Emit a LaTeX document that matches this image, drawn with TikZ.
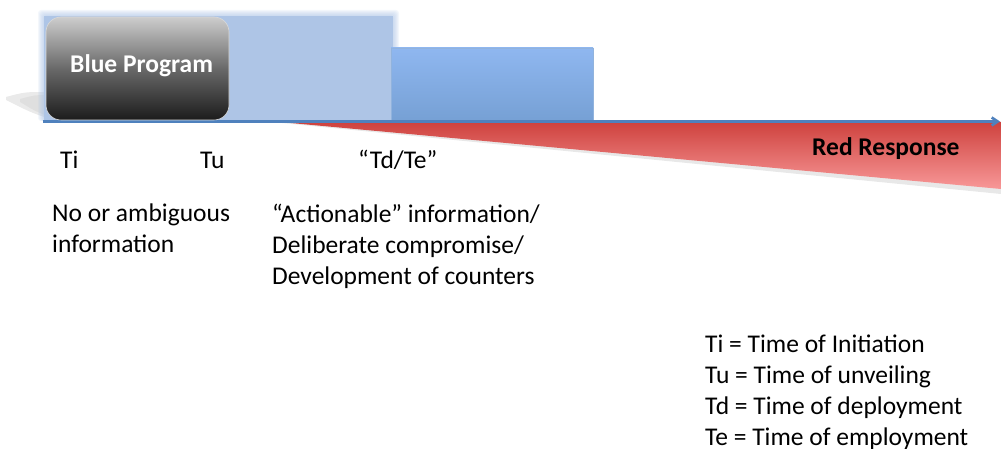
\documentclass[tikz,border=0pt]{standalone}
\usepackage{fontspec}
\setmainfont{Carlito}
\usetikzlibrary{arrows.meta}
\definecolor{axisblue}{RGB}{79,129,189}
\definecolor{paleblue}{RGB}{174,197,230}
\definecolor{midblueT}{RGB}{143,183,240}
\definecolor{midblueB}{RGB}{118,160,212}
\definecolor{redT}{RGB}{206,66,62}
\definecolor{redB}{RGB}{248,152,152}
\definecolor{boxT}{RGB}{205,205,205}
\definecolor{boxM}{RGB}{105,105,105}
\definecolor{boxB}{RGB}{28,28,28}
\tikzset{
  txt/.style={inner sep=0pt, anchor=base west, align=left,
    font=\fontsize{25.5}{30.7}\selectfont},
  boldtxt/.style={inner sep=0pt, anchor=base west,
    font=\fontsize{25.5}{30.7}\selectfont\bfseries},
}
\begin{document}
\begin{tikzpicture}[x=1pt,y=-1pt]
\useasboundingbox (0,0) rectangle (1001,449);

% soft grey shadow cast to the left of the program box
\foreach \o in {0.07,0.06,0.05}{
  \fill[gray, opacity=\o] (6,97) .. controls (25,92) .. (47,92) -- (47,118) .. controls (30,112) .. (6,100) -- cycle;
}
\fill[gray, opacity=0.10] (20,99) .. controls (35,95) .. (47,95) -- (47,116) .. controls (35,111) .. (20,102) -- cycle;

% pale blue band, its edge fading out over a few points
\foreach \d in {1,...,6}{
  \fill[paleblue, opacity=0.14, rounded corners=3pt] (44-\d,16-\d) rectangle (393+\d,121);
}
\fill[paleblue] (44,16) rectangle (393,121);

% deployment band
\shade[top color=midblueT, bottom color=midblueB] (391,48) rectangle (593,121);
\draw[midblueB!80!white, line width=0.6pt] (391,121) -- (391,48) -- (593,48) -- (593,121);

% red response wedge with faint shadow
\fill[gray, opacity=0.18] (282,123) -- (1001,123) -- (1001,194) -- cycle;
\shade[top color=redT, bottom color=redB] (280,122) -- (1001,122) -- (1001,189) -- cycle;

% time axis
\coordinate (axL) at (43,121.5);
\coordinate (axR) at (1000,121.5);
\draw[axisblue, line width=2.6pt, -{Straight Barb[length=6pt,width=8pt]}] (axL) -- (axR);

% program box
\shade[top color=boxT, bottom color=boxB, middle color=boxM, rounded corners=15pt]
  (46,17) rectangle (229,120);
\draw[white!85!black, line width=0.6pt, rounded corners=15pt] (46,17) rectangle (229,120);
\node[boldtxt, text=white] (blue) at (70,73) {Blue Program};

\node[boldtxt] (red) at (812,156) {Red Response};

% milestone labels
\node[txt] (ti) at (60,169) {Ti};
\node[txt] (tu) at (200,169) {Tu};
\node[txt] (tdte) at (358,169) {“Td/Te”};

% phase descriptions (base anchor sits on the last line)
\node[txt] (phase1) at (52,252) {No or ambiguous\\information};
\node[txt] (phase2) at (272,284) {“Actionable” information/\\Deliberate compromise/\\Development of counters};

% legend
\node[txt] (legend) at (705,445) {Ti = Time of Initiation\\Tu = Time of unveiling\\Td = Time of deployment\\Te = Time of employment};
\end{tikzpicture}
\end{document}
